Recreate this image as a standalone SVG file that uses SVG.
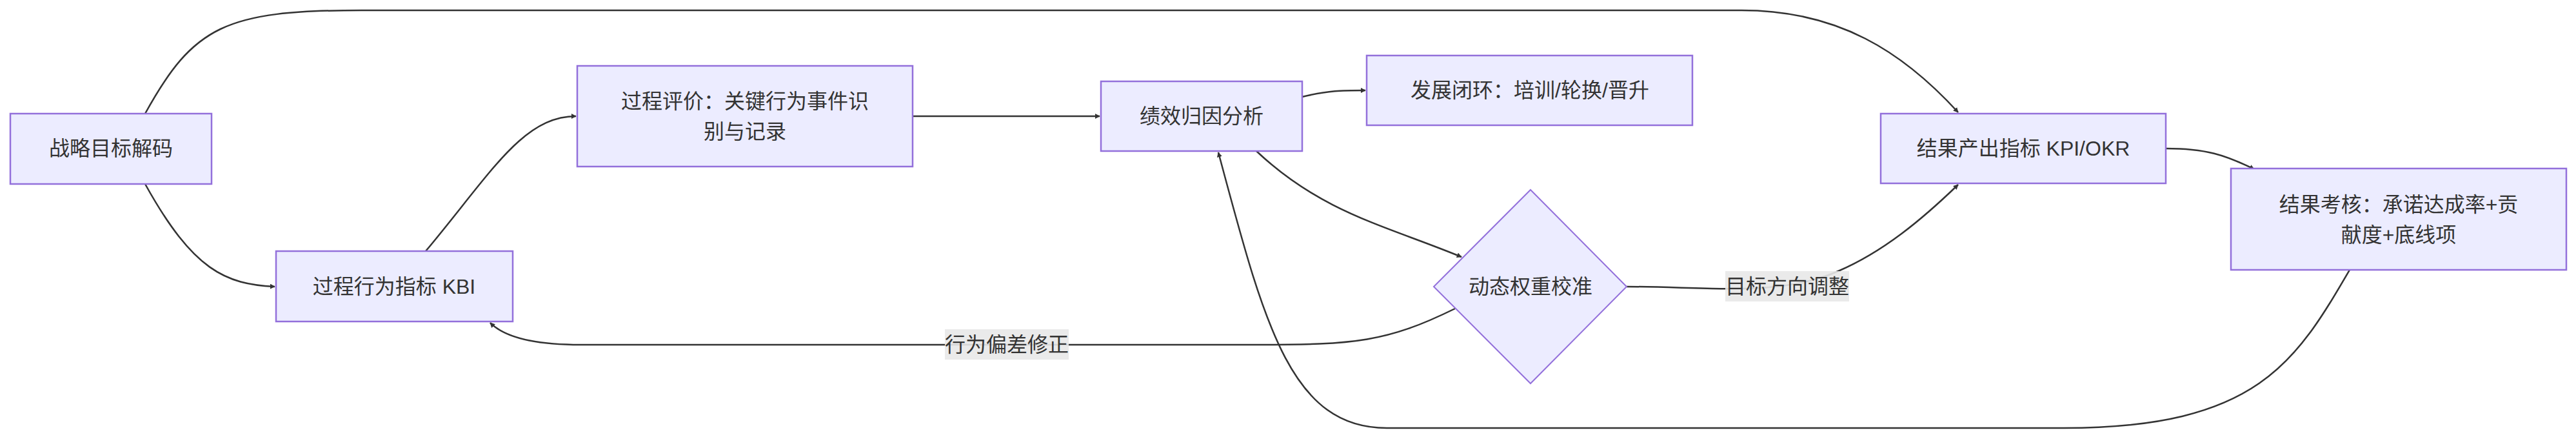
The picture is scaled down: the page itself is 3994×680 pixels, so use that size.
<svg xmlns="http://www.w3.org/2000/svg" width="3994" height="680" viewBox="0 0 3994 680">
<defs>
<marker id="arr" viewBox="0 0 10 10" refX="9" refY="5" markerWidth="8" markerHeight="8" markerUnits="userSpaceOnUse" orient="auto"><path d="M0,0 L10,5 L0,10 z" fill="#333"/></marker>
<style>
.n{fill:#ECECFF;stroke:#9370DB;stroke-width:2.5}
.t{font-family:"Liberation Sans","Noto Sans CJK SC",sans-serif;font-size:32px;fill:#333;text-anchor:middle;dominant-baseline:central}
.e{fill:none;stroke:#333;stroke-width:2.5;marker-end:url(#arr)}
.lb{fill:#e8e8e8;opacity:0.9}
</style>
</defs>
<rect width="3994" height="680" fill="#fff"/>
<g id="edges">
<path class="e" d="M225,176 C300,40 350,16 560,16 L2700,16 C2850,16 2950,80 3036,174" style="marker-end:url(#arr)"/>
<path class="e" d="M225,285 C300,420 350,440 426,444"/>
<path class="e" d="M660,389 C760,270 810,180 893,180"/>
<path class="e" d="M1415,180 L1705,180"/>
<path class="e" d="M2019,150 C2060,140 2080,140 2117,140"/>
<path class="e" d="M1948,234 C2050,330 2150,350 2266,398"/>
<path class="e" d="M2256,478 C2150,530 2100,534 1950,534 L900,534 C820,534 780,520 760,500"/>
<path class="e" d="M2522,444 C2650,444 2760,460 2850,420 C2920,390 2980,340 3036,286"/>
<path class="e" d="M3643,418 C3560,560 3500,663 3200,663 L2150,663 C2000,663 1960,500 1889,236"/>
<path class="e" d="M3358,230 C3420,230 3450,240 3495,262"/>
</g>
<g id="lbl1"><rect class="lb" x="1465" y="510" width="192" height="47"/><text class="t" x="1561" y="534">行为偏差修正</text></g>
<g id="lbl2"><rect class="lb" x="2675" y="420" width="192" height="47"/><text class="t" x="2771" y="444">目标方向调整</text></g>
<g id="nA"><rect class="n" x="16" y="176" width="312" height="109"/><text class="t" x="172" y="230">战略目标解码</text></g>
<g id="nB"><rect class="n" x="428" y="389" width="367" height="109"/><text class="t" x="611" y="444">过程行为指标 KBI</text></g>
<g id="nC"><rect class="n" x="895" y="102" width="520" height="156"/><text class="t" x="1155" y="157">过程评价：关键行为事件识</text><text class="t" x="1155" y="204">别与记录</text></g>
<g id="nD"><rect class="n" x="1707" y="126" width="312" height="108"/><text class="t" x="1863" y="180">绩效归因分析</text></g>
<g id="nE"><rect class="n" x="2119" y="86" width="505" height="108"/><text class="t" x="2372" y="140">发展闭环：培训/轮换/晋升</text></g>
<g id="nF"><polygon class="n" points="2373,294 2522,444 2373,594 2223,444" style="stroke-width:2"/><text class="t" x="2373" y="444">动态权重校准</text></g>
<g id="nG"><rect class="n" x="2916" y="176" width="442" height="108"/><text class="t" x="3137" y="230">结果产出指标 KPI/OKR</text></g>
<g id="nH"><rect class="n" x="3459" y="261" width="520" height="157"/><text class="t" x="3719" y="317">结果考核：承诺达成率+贡</text><text class="t" x="3719" y="364">献度+底线项</text></g>
</svg>
